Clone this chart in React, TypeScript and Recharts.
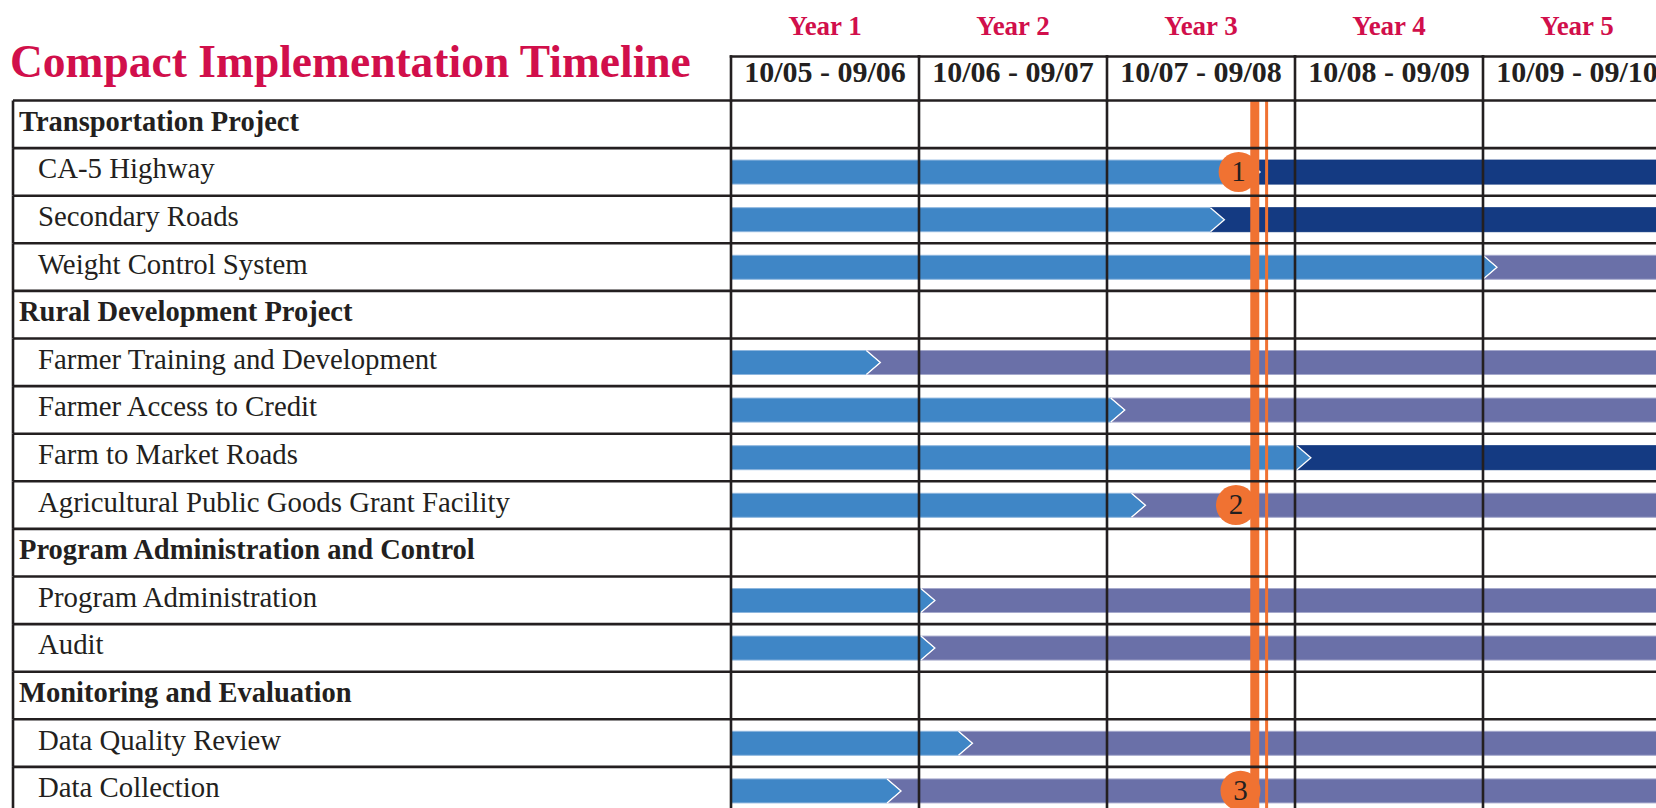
import React from 'react';
import { BarChart, Bar, XAxis, YAxis, ReferenceLine, ReferenceDot } from 'recharts';

// ---------- data ----------
const chartTitle = 'Compact Implementation Timeline';

const rowLabels = [
  'Transportation Project',
  'CA-5 Highway',
  'Secondary Roads',
  'Weight Control System',
  'Rural Development Project',
  'Farmer Training and Development',
  'Farmer Access to Credit',
  'Farm to Market Roads',
  'Agricultural Public Goods Grant Facility',
  'Program Administration and Control',
  'Program Administration',
  'Audit',
  'Monitoring and Evaluation',
  'Data Quality Review',
  'Data Collection',
];
const rowIsGroup = [true, false, false, false, true, false, false, false, false, true, false, false, true, false, false];
// end of the first (light blue) phase, in years from 10/05
const phaseOneEnd = [null, 2.74, 2.55, 4.0, null, 0.72, 2.02, 3.01, 2.13, null, 1.01, 1.01, null, 1.21, 0.83];
// type of the second phase
const phaseTwoType = [null, 'construction', 'construction', 'operation', null, 'operation', 'operation', 'construction', 'operation', null, 'operation', 'operation', null, 'operation', 'operation'];

const timelineEndYear = 5;
const yearBoundaries = [0, 1, 2, 3, 4, 5];
const yearLabels = ['Year 1', 'Year 2', 'Year 3', 'Year 4', 'Year 5'];
const periodLabels = ['10/05 - 09/06', '10/06 - 09/07', '10/07 - 09/08', '10/08 - 09/09', '10/09 - 09/10'];

const statusLineThick = 2.786;
const statusLineThin = 2.849;

const milestoneRows = ['CA-5 Highway', 'Agricultural Public Goods Grant Facility', 'Data Collection'];
const milestoneYears = [2.70, 2.686, 2.71];
const milestoneLabels = ['1', '2', '3'];

const data = rowLabels.map((name, i) => ({
  name,
  phase1: phaseOneEnd[i],
  phase2: phaseOneEnd[i] == null ? null : timelineEndYear - (phaseOneEnd[i] as number),
  phase2Type: phaseTwoType[i],
}));

const headerTicks = [
  ...yearBoundaries,
  ...yearLabels.map((_, i) => i + 0.5),
].sort((a, b) => a - b);

// ---------- layout & style ----------
const SERIF = '"Liberation Serif", "DejaVu Serif", serif';
const C = {
  ink: '#231F20',
  crimson: '#D10F4B',
  phase1: '#3F86C6',
  phase1Edge: '#8DB6DE',
  construction: '#143A82',
  operation: '#6A70A8',
  operationEdge: '#A6A9CC',
  orange: '#F07232',
};
const CHART_W = 1680;
const CHART_H = 820;
const LABEL_W = 718;
const HEADER_H = 44;
const MARGIN = { top: 56.5, right: 9, bottom: 5.5, left: 13 };
const PLOT_W = CHART_W - MARGIN.left - LABEL_W - MARGIN.right;
const PLOT_H = CHART_H - MARGIN.top - HEADER_H - MARGIN.bottom;
const ROW_H = PLOT_H / rowLabels.length;
const COL_W = PLOT_W / yearLabels.length;
const LINE_W = 2.6;
const BAR_H = 24;
const TIP = 14;

const RowTick = (props: any) => {
  const { x, y, payload } = props;
  const i = rowLabels.indexOf(payload.value);
  const group = rowIsGroup[i];
  const left = x - LABEL_W;
  const top = y - ROW_H / 2;
  return (
    <g>
      <line x1={left} x2={x + PLOT_W + 30} y1={top} y2={top} stroke={C.ink} strokeWidth={LINE_W} />
      <line x1={left} x2={left} y1={top} y2={top + ROW_H} stroke={C.ink} strokeWidth={LINE_W} />
      <text
        x={left + (group ? 6 : 25)}
        y={y + 6.5}
        textAnchor="start"
        fontFamily={SERIF}
        fontSize={group ? 28.5 : 28.8}
        fontWeight={group ? 700 : 400}
        fill={C.ink}
      >
        {payload.value}
      </text>
    </g>
  );
};

const HeaderTick = (props: any) => {
  const { x, y, payload } = props;
  const v = payload.value;
  if (Number.isInteger(v)) {
    return (
      <g>
        <line x1={x} x2={x} y1={y} y2={y - HEADER_H} stroke={C.ink} strokeWidth={LINE_W} strokeLinecap="square" />
        {v < timelineEndYear && (
          <line x1={x} x2={x + COL_W} y1={y - HEADER_H} y2={y - HEADER_H} stroke={C.ink} strokeWidth={LINE_W} strokeLinecap="square" />
        )}
      </g>
    );
  }
  const i = Math.floor(v);
  return (
    <g>
      <text x={x} y={y - 65.5} textAnchor="middle" fontFamily={SERIF} fontSize={27} fontWeight={700} fill={C.crimson}>
        {yearLabels[i]}
      </text>
      <text x={x} y={y - 19} textAnchor="middle" fontFamily={SERIF} fontSize={30} fontWeight={700} fill={C.ink}>
        {periodLabels[i]}
      </text>
    </g>
  );
};

const PhaseOneShape = (props: any) => {
  const { x, y, width, height } = props;
  if (!width || width <= 0) return null;
  const d = `M${x},${y}H${x + width}L${x + width + TIP},${y + height / 2}L${x + width},${y + height}H${x}Z`;
  return <path d={d} fill={C.phase1} stroke={C.phase1Edge} strokeWidth={1} />;
};

const PhaseTwoShape = (props: any) => {
  const { x, y, width, height, payload } = props;
  if (!width || width <= 0) return null;
  const construction = payload && payload.phase2Type === 'construction';
  const fill = construction ? C.construction : C.operation;
  const edge = construction ? C.construction : C.operationEdge;
  const d = `M${x},${y}H${x + width}V${y + height}H${x}L${x + TIP},${y + height / 2}Z`;
  return (
    <g>
      <path d={d} fill={fill} stroke={edge} strokeWidth={1} />
      <polyline
        points={`${x},${y} ${x + TIP},${y + height / 2} ${x},${y + height}`}
        fill="none"
        stroke="#ffffff"
        strokeWidth={1.3}
      />
    </g>
  );
};

const MilestoneLabel = (props: any) => {
  const { viewBox, value } = props;
  if (!viewBox) return null;
  const cx = viewBox.x + (viewBox.width || 0) / 2;
  const cy = viewBox.y + (viewBox.height || 0) / 2;
  return (
    <text x={cx} y={cy + 9} textAnchor="middle" fontFamily={SERIF} fontSize={29} fill={C.ink}>
      {value}
    </text>
  );
};

export default function App() {
  return (
    <div
      style={{
        position: 'fixed',
        left: 0,
        top: 0,
        width: 1656,
        height: 808,
        overflow: 'hidden',
        background: '#ffffff',
      }}
    >
      <BarChart
        width={CHART_W}
        height={CHART_H}
        data={data}
        layout="vertical"
        margin={MARGIN}
        barCategoryGap={0}
      >
        <XAxis
          type="number"
          orientation="top"
          domain={[0, timelineEndYear]}
          ticks={headerTicks}
          interval={0}
          tick={<HeaderTick />}
          tickLine={false}
          axisLine={false}
          tickSize={0}
          tickMargin={0}
          height={HEADER_H}
          allowDataOverflow
        />
        <YAxis
          type="category"
          dataKey="name"
          width={LABEL_W}
          interval={0}
          tick={<RowTick />}
          tickLine={false}
          axisLine={false}
          tickSize={0}
          tickMargin={0}
        />
        <Bar dataKey="phase1" stackId="t" barSize={BAR_H} shape={<PhaseOneShape />} isAnimationActive={false} />
        <Bar dataKey="phase2" stackId="t" barSize={BAR_H} shape={<PhaseTwoShape />} isAnimationActive={false} />
        {yearBoundaries.map((v) => (
          <ReferenceLine key={`yb${v}`} x={v} stroke={C.ink} strokeWidth={LINE_W} />
        ))}
        <ReferenceLine x={statusLineThick} stroke={C.orange} strokeWidth={9} />
        <ReferenceLine x={statusLineThin} stroke={C.orange} strokeWidth={3} />
        {milestoneRows.map((row, i) => (
          <ReferenceDot
            key={`m${i}`}
            x={milestoneYears[i]}
            y={row}
            r={20}
            fill={C.orange}
            stroke="none"
            label={<MilestoneLabel value={milestoneLabels[i]} />}
          />
        ))}
      </BarChart>
      <svg
        width={720}
        height={100}
        style={{ position: 'absolute', left: 0, top: 0, pointerEvents: 'none' }}
      >
        <text x={10} y={77} fontFamily={SERIF} fontSize={45.5} fontWeight={700} fill={C.crimson}>
          {chartTitle}
        </text>
      </svg>
    </div>
  );
}
